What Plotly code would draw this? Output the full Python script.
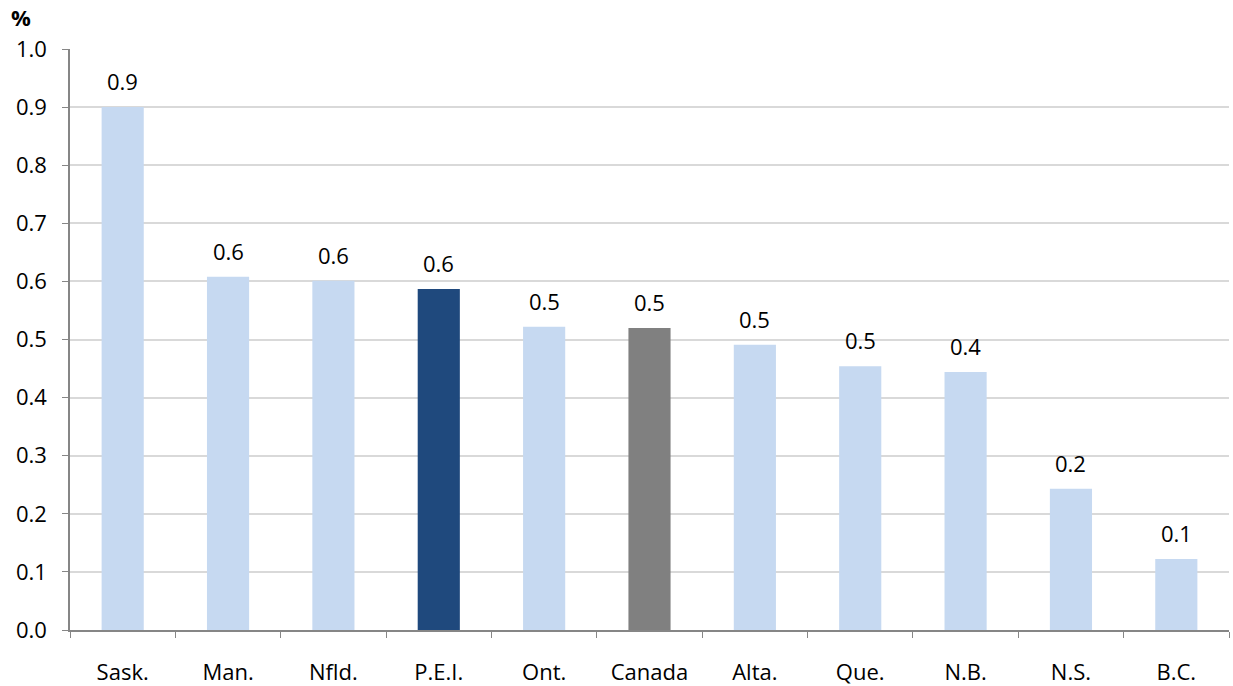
import plotly.graph_objects as go

# Provinces ranked by value, with the national figure among them
regions = ["Sask.", "Man.", "Nfld.", "P.E.I.", "Ont.", "Canada", "Alta.", "Que.", "N.B.", "N.S.", "B.C."]
values = [0.90, 0.608, 0.601, 0.587, 0.522, 0.520, 0.491, 0.454, 0.444, 0.243, 0.122]

LIGHT = "#c6d9f1"
NAVY = "#1f497d"
GREY = "#808080"
bar_colors = [NAVY if r == "P.E.I." else GREY if r == "Canada" else LIGHT for r in regions]

FONT = "Open Sans, Liberation Sans, Arial, sans-serif"
SIZE = 22

fig = go.Figure(
    go.Bar(
        x=regions,
        y=values,
        marker=dict(color=bar_colors, line=dict(width=0)),
        hoverinfo="skip",
    )
)

# Value labels above each bar, rounded to one decimal
for r, v in zip(regions, values):
    fig.add_annotation(
        x=r, y=v, text=f"{v:.1f}", showarrow=False,
        yanchor="bottom", yshift=9,
        font=dict(family=FONT, size=SIZE, color="#000000"),
    )

fig.add_annotation(
    xref="paper", yref="paper", x=-0.042, y=1.025,
    xanchor="center", yanchor="bottom", text="<b>%</b>", showarrow=False,
    font=dict(family=FONT, size=SIZE, color="#000000"),
)

fig.update_layout(
    width=1233, height=686,
    margin=dict(l=70, r=4, t=49, b=56),
    paper_bgcolor="white", plot_bgcolor="white",
    bargap=0.6,
    showlegend=False,
    font=dict(family=FONT, size=SIZE, color="#000000"),
)
fig.update_xaxes(
    automargin=False,
    showline=True, linecolor="#868686", linewidth=1.5,
    ticks="outside", tickson="boundaries", ticklen=6, tickcolor="#868686",
    ticklabelstandoff=22,
    tickfont=dict(family=FONT, size=SIZE, color="#000000"),
    showgrid=False,
)
fig.update_yaxes(
    automargin=False,
    range=[0, 1.0], dtick=0.1, tickformat=".1f",
    showline=True, linecolor="#868686", linewidth=1.5,
    ticks="outside", ticklen=6, tickcolor="#868686",
    ticklabelstandoff=11,
    showgrid=True, gridcolor="#d9d9d9", gridwidth=1.5,
    zeroline=False,
    tickfont=dict(family=FONT, size=SIZE, color="#000000"),
)

fig.write_html("out.html")
